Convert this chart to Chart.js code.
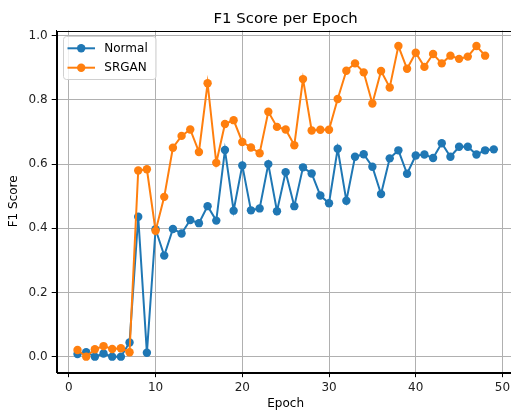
<!DOCTYPE html>
<html>
<head>
<meta charset="utf-8">
<script src="https://cdn.jsdelivr.net/npm/chart.js@4"></script>
<style>
  html, body { margin: 0; padding: 0; background: #ffffff; }
  #wrap { width: 511px; height: 412px; overflow: hidden; position: relative; }
  canvas { display: block; }
</style>
</head>
<body>
<div id="wrap"><canvas id="c" width="520" height="412"></canvas></div>
<script>
const epochs = [1,2,3,4,5,6,7,8,9,10,11,12,13,14,15,16,17,18,19,20,21,22,23,24,25,26,27,28,29,30,31,32,33,34,35,36,37,38,39,40,41,42,43,44,45,46,47,48,49];
const normalF1 = [0.008,0.014,0.000,0.010,0.000,0.000,0.044,0.436,0.012,0.397,0.315,0.398,0.384,0.426,0.416,0.469,0.424,0.644,0.455,0.596,0.456,0.462,0.600,0.453,0.575,0.469,0.590,0.571,0.502,0.478,0.648,0.486,0.623,0.631,0.592,0.507,0.618,0.643,0.570,0.627,0.630,0.619,0.665,0.623,0.654,0.654,0.630,0.643,0.646];
const srganF1 = [0.021,0.000,0.023,0.033,0.024,0.026,0.014,0.580,0.584,0.392,0.498,0.651,0.688,0.708,0.638,0.852,0.604,0.725,0.737,0.669,0.652,0.634,0.763,0.716,0.708,0.659,0.865,0.705,0.707,0.707,0.803,0.891,0.914,0.886,0.789,0.890,0.839,0.968,0.897,0.947,0.903,0.943,0.914,0.938,0.928,0.935,0.968,0.938];
const xTicks = [0,10,20,30,40,50];
const yTicks = [0.0,0.2,0.4,0.6,0.8,1.0];
const seriesNames = ['Normal','SRGAN'];
const titleText = 'F1 Score per Epoch';
const xLabel = 'Epoch';
const yLabel = 'F1 Score';

const BLUE = '#1f77b4', ORANGE = '#ff7f0e';
const FONT = "'DejaVu Sans', sans-serif";

function pts(vals) { return vals.map((v, i) => ({x: epochs[i], y: v})); }

const framePlugin = {
  id: 'frame',
  afterDraw(chart) {
    const ctx = chart.ctx, a = chart.chartArea;
    ctx.save();
    ctx.strokeStyle = '#000';
    ctx.lineWidth = 1;
    ctx.strokeRect(Math.round(a.left) + 0.5, Math.round(a.top) + 0.5, Math.round(a.right - a.left), Math.round(a.bottom - a.top));
    // title
    ctx.fillStyle = '#000';
    ctx.font = "14.9px " + FONT;
    ctx.textAlign = 'center';
    ctx.textBaseline = 'alphabetic';
    ctx.fillText(titleText, (a.left + a.right) / 2, 22.7);
    // legend
    const bx = 63.5, by = 36.5, bw = 92.5, bh = 43;
    ctx.beginPath();
    if (ctx.roundRect) ctx.roundRect(bx, by, bw, bh, 3); else ctx.rect(bx, by, bw, bh);
    ctx.fillStyle = 'rgba(255,255,255,0.8)';
    ctx.fill();
    ctx.strokeStyle = '#d0d0d0';
    ctx.lineWidth = 1;
    ctx.stroke();
    const colors = [BLUE, ORANGE];
    const ys = [48.3, 67.7];
    ctx.font = "12px " + FONT;
    ctx.textAlign = 'left';
    ctx.textBaseline = 'middle';
    for (let i = 0; i < 2; i++) {
      ctx.strokeStyle = colors[i];
      ctx.lineWidth = 2;
      ctx.beginPath();
      ctx.moveTo(67.5, ys[i]);
      ctx.lineTo(95, ys[i]);
      ctx.stroke();
      ctx.fillStyle = colors[i];
      ctx.beginPath();
      ctx.arc(81.2, ys[i], 4.2, 0, Math.PI * 2);
      ctx.fill();
      ctx.fillStyle = '#000';
      ctx.fillText(seriesNames[i], 104.3, ys[i] + 0.5);
    }
    ctx.restore();
  }
};

new Chart(document.getElementById('c'), {
  type: 'line',
  data: {
    datasets: [
      { label: seriesNames[0], data: pts(normalF1), borderColor: BLUE, backgroundColor: BLUE,
        pointBackgroundColor: BLUE, pointBorderWidth: 0, pointRadius: 4.2, pointHoverRadius: 4.2,
        borderWidth: 2, tension: 0, order: 1 },
      { label: seriesNames[1], data: pts(srganF1), borderColor: ORANGE, backgroundColor: ORANGE,
        pointBackgroundColor: ORANGE, pointBorderWidth: 0, pointRadius: 4.2, pointHoverRadius: 4.2,
        borderWidth: 2, tension: 0, order: 0 }
    ]
  },
  options: {
    responsive: false,
    animation: false,
    devicePixelRatio: 1,
    layout: { padding: { top: 30.5, right: 5.4, left: 0, bottom: 0 } },
    plugins: { legend: { display: false }, title: { display: false }, tooltip: { enabled: false } },
    scales: {
      x: {
        type: 'linear', min: -1.4, max: 51.4,
        afterBuildTicks(s) { s.ticks = xTicks.map(v => ({value: v})); },
        afterFit(s) { s.height = 39.8; },
        grid: { color: '#b0b0b0', lineWidth: 1, tickColor: '#000', tickLength: 5, drawTicks: true },
        border: { display: true, color: '#000', width: 1 },
        ticks: { color: '#222', font: { family: FONT, size: 12 }, padding: 3, maxRotation: 0,
                 callback: v => String(v) },
        title: { display: true, text: xLabel, color: '#000', font: { family: FONT, size: 12 }, padding: { top: 0, bottom: 1 } }
      },
      y: {
        type: 'linear', min: -0.0484, max: 1.0164,
        afterBuildTicks(s) { s.ticks = yTicks.map(v => ({value: v})); },
        afterFit(s) { s.width = 56.7; },
        grid: { color: '#b0b0b0', lineWidth: 1, tickColor: '#000', tickLength: 5, drawTicks: true },
        border: { display: true, color: '#000', width: 1 },
        ticks: { color: '#222', font: { family: FONT, size: 12 }, padding: 4,
                 callback: v => Number(v).toFixed(1) },
        title: { display: true, text: yLabel, color: '#000', font: { family: FONT, size: 12 }, padding: { top: 7, bottom: 0 } }
      }
    }
  },
  plugins: [framePlugin]
});
</script>
</body>
</html>
